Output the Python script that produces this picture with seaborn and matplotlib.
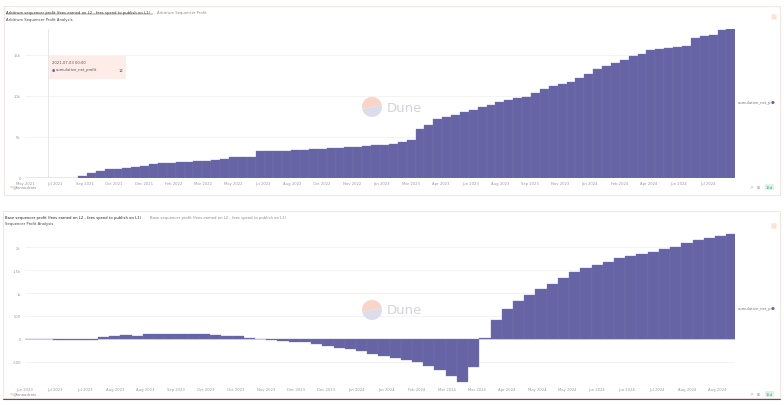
import numpy as np
import pandas as pd
import matplotlib
matplotlib.use("Agg")
import matplotlib.pyplot as plt
import matplotlib.dates as mdates
from matplotlib.patches import Rectangle, Wedge
from matplotlib.lines import Line2D
import seaborn as sns

# ---- data ----
arb_dates = pd.date_range("2021-06-01", periods=80, freq="15D")
arb_profit_k = [0.0, 0.005, 0.014, 0.02, 0.03, 0.04, 0.2, 0.6, 0.9, 1.05,
                1.15, 1.25, 1.35, 1.48, 1.65, 1.8, 1.87, 1.93, 1.99, 2.05,
                2.11, 2.18, 2.28, 2.5, 2.55, 2.6, 3.24, 3.27, 3.3, 3.34,
                3.38, 3.43, 3.48, 3.53, 3.59, 3.65, 3.72, 3.8, 3.88, 3.97,
                4.06, 4.17, 4.35, 4.6, 5.95, 6.5, 7.2, 7.38, 7.7, 8.0,
                8.3, 8.6, 8.9, 9.25, 9.52, 9.7, 9.9, 10.35, 10.8, 11.2,
                11.45, 11.7, 12.2, 12.7, 13.25, 13.65, 14.0, 14.4, 14.9, 15.05,
                15.6, 15.72, 15.85, 15.95, 16.08, 17.05, 17.25, 17.4, 18.0, 18.1]
arb_tick_labels = ["May 2021", "Jul 2021", "Sep 2021", "Oct 2021", "Dec 2021", "Feb 2022",
                   "Mar 2022", "May 2022", "Jul 2022", "Aug 2022", "Oct 2022", "Nov 2022",
                   "Jan 2023", "Mar 2023", "Apr 2023", "Jun 2023", "Aug 2023", "Sep 2023",
                   "Nov 2023", "Jan 2024", "Feb 2024", "Apr 2024", "Jun 2024", "Jul 2024"]
arb_tick_span = ("2021-05-25", "2024-07-22")
arb_xlim = ("2021-05-25", "2024-09-05")
arb_yticks = [0, 5000, 10000, 15000]
arb_ylabels = ["0", "5k", "10k", "15k"]
arb_hover_date = "2021-07-03"
arb_hover_value = 14

base_dates = pd.date_range("2023-06-16", periods=64, freq="7D")
base_profit = [-5, -8, -10, -12, -15, -18, -20, 45, 75, 85,
               60, 115, 115, 112, 108, 104, 98, 88, 75, 55,
               30, 5, -20, -40, -58, -75, -110, -150, -190, -225,
               -270, -320, -370, -410, -450, -510, -580, -680, -800, -930,
               -620, 20, 420, 650, 820, 960, 1080, 1200, 1320, 1460,
               1540, 1620, 1680, 1760, 1810, 1850, 1890, 1950, 2010, 2090,
               2150, 2200, 2240, 2280]
base_tick_labels = ["Jun 2023", "Jul 2023", "Jul 2023", "Aug 2023", "Aug 2023", "Sep 2023",
                    "Oct 2023", "Oct 2023", "Nov 2023", "Dec 2023", "Dec 2023", "Jan 2024",
                    "Jan 2024", "Feb 2024", "Mar 2024", "Mar 2024", "Apr 2024", "May 2024",
                    "May 2024", "Jun 2024", "Jun 2024", "Jul 2024", "Aug 2024", "Aug 2024"]
base_tick_span = ("2023-06-16", "2024-08-21")
base_xlim = ("2023-06-16", "2024-09-01")
base_yticks = [-500, 0, 500, 1000, 1500, 2000]
base_ylabels = ["-500", "0", "500", "1k", "1.5k", "2k"]

BAR = "#6764a6"
EDGE = "#7774b0"
GRID = "#eeeeee"
TICK = "#9a9a9a"
FS = 2.7

sns.set_theme(style="white")
plt.rcParams["font.family"] = ["DejaVu Sans"]

W, H = 784, 406
fig = plt.figure(figsize=(W / 100, H / 100), dpi=100)


def fx(x):
    return x / W


def fy(y):
    return 1 - y / H


def draw_panel(ax, dates, values, tick_labels, tick_span, xlim, yticks, ylabels, ylim):
    x = mdates.date2num(dates)
    sns.barplot(x=x, y=values, native_scale=True, width=1.0, color=BAR, saturation=1,
                edgecolor=EDGE, linewidth=0.25, errorbar=None, ax=ax)
    t0, t1 = mdates.date2num(pd.to_datetime(list(tick_span)))
    ax.set_xticks(np.linspace(t0, t1, len(tick_labels)))
    ax.set_xticklabels(tick_labels)
    ax.set_xlim(*mdates.date2num(pd.to_datetime(list(xlim))))
    ax.set_yticks(yticks)
    ax.set_yticklabels(ylabels)
    ax.set_ylim(*ylim)
    ax.set_xlabel("")
    ax.set_ylabel("")
    for s in ax.spines.values():
        s.set_visible(False)
    ax.grid(False)
    for v in yticks:
        ax.axhline(v, color="#d0d0d0" if v == 0 else GRID, lw=0.5, zorder=0)
    ax.tick_params(axis="x", length=0, labelsize=FS, colors=TICK, pad=2)
    ax.tick_params(axis="y", length=0, labelsize=FS, colors=TICK, pad=3)
    ax.set_facecolor("none")


def card(x0, y0, x1, y1):
    fig.add_artist(Rectangle((fx(x0), fy(y1)), fx(x1) - fx(x0), fy(y0) - fy(y1),
                             transform=fig.transFigure, fill=False,
                             edgecolor="#f1e7e3", lw=0.8))


def watermark(cx, cy):
    c = (cx / 100, (H - cy) / 100)
    fig.add_artist(Wedge(c, 0.1, 12, 192, transform=fig.dpi_scale_trans,
                         facecolor="#f8d5c8", edgecolor="none"))
    fig.add_artist(Wedge(c, 0.1, 192, 372, transform=fig.dpi_scale_trans,
                         facecolor="#dcdcea", edgecolor="none"))
    fig.text(fx(cx + 15), fy(cy), "Dune", fontsize=9.5, color="#d3d3dc",
             va="center", ha="left", fontweight="medium")


def footer(ybase):
    fig.text(fx(10), fy(ybase), "●", fontsize=2.5, color="#f6cfc4", va="center")
    fig.text(fx(13), fy(ybase), "@fenaudrats", fontsize=FS, color="#888888", va="center")
    fig.text(fx(750), fy(ybase + 1), "↗   ⊞", fontsize=FS, color="#999999", va="center")
    fig.text(fx(766), fy(ybase + 1), "15d", fontsize=FS, color="#3aa57a", va="center",
             bbox=dict(boxstyle="round,pad=0.25", facecolor="#dff3ea", edgecolor="none"))


def legend(y):
    fig.text(fx(738), fy(y), "cumulative_net_p", fontsize=FS, color="#777777", va="center")
    fig.text(fx(771), fy(y), "●", fontsize=3.2, color=BAR, va="center")


def menu(y):
    fig.text(fx(774), fy(y), "···", fontsize=FS, color="#e7945f", va="center", ha="center",
             bbox=dict(boxstyle="round,pad=0.2", facecolor="#fde5d8", edgecolor="none"))


# ---- top card: Arbitrum ----
card(4, 7, 780, 196)
fig.text(fx(6), fy(13), "Arbitrum sequencer profit (fees earned on L2 - fees spend to publish on L1)",
         fontsize=FS, color="#333333", va="center")
fig.add_artist(Line2D([fx(6), fx(153)], [fy(15.3), fy(15.3)], color="#333333", lw=0.3,
                      transform=fig.transFigure))
fig.text(fx(157), fy(13), "Arbitrum Sequencer Profit", fontsize=FS, color="#8a8a8a", va="center")
fig.text(fx(6), fy(20), "Arbitrum Sequencer Profit Analysis", fontsize=FS, color="#444444", va="center")
menu(18)

ax1 = fig.add_axes([fx(25), fy(179), (735 - 25) / W, (179 - 30) / H])
draw_panel(ax1, arb_dates, np.array(arb_profit_k) * 1000, arb_tick_labels, arb_tick_span,
           arb_xlim, arb_yticks, arb_ylabels, (0, 18130))
ax1.axvline(mdates.date2num(pd.Timestamp(arb_hover_date)), color="#dddddd", lw=0.5, zorder=3)

# tooltip
fig.add_artist(Rectangle((fx(49), fy(80)), (126 - 49) / W, (80 - 57) / H,
                         transform=fig.transFigure, facecolor="#fdece8", edgecolor="none"))
fig.text(fx(52), fy(63), arb_hover_date + " 00:00", fontsize=FS, color="#555555", va="center")
fig.text(fx(52), fy(70.5), "●", fontsize=2.6, color=BAR, va="center")
fig.text(fx(56), fy(70.5), "cumulative_net_profit", fontsize=FS, color="#555555", va="center")
fig.text(fx(123), fy(70.5), str(arb_hover_value), fontsize=FS, color="#555555", va="center", ha="right")

watermark(372, 108)
legend(103)
footer(187)

# ---- bottom card: Base ----
card(3, 212, 780, 399)
fig.add_artist(Line2D([fx(3), fx(780)], [fy(400), fy(400)], color="#555555", lw=0.8,
                      transform=fig.transFigure))
fig.text(fx(5), fy(218), "Base sequencer profit (fees earned on L2 - fees spend to publish on L1)",
         fontsize=FS, color="#222222", va="center")
fig.text(fx(150), fy(218), "Base sequencer profit (fees earned on L2 - fees spend to publish on L1)",
         fontsize=FS, color="#8a8a8a", va="center")
fig.text(fx(5), fy(224), "Sequencer Profit Analysis", fontsize=FS, color="#444444", va="center")
menu(227)

ax2 = fig.add_axes([fx(25), fy(385), (735 - 25) / W, (385 - 232) / H])
draw_panel(ax2, base_dates, base_profit, base_tick_labels, base_tick_span,
           base_xlim, base_yticks, base_ylabels, (-980, 2350))

watermark(372, 311)
legend(309)
footer(394)

fig.savefig("out.png", dpi=100)
